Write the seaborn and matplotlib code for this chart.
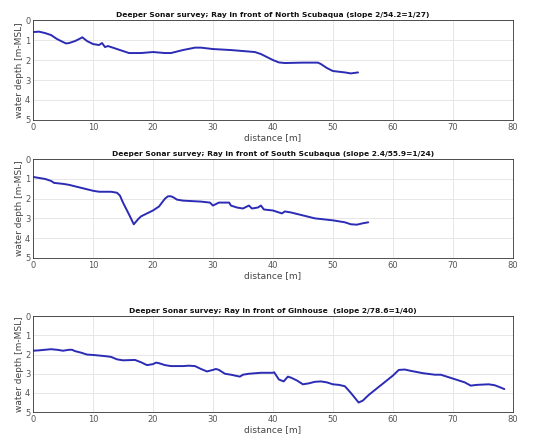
import matplotlib
matplotlib.use("Agg")
import matplotlib.pyplot as plt
import seaborn as sns
import pandas as pd

# Sonar profiles: distance along ray [m] and water depth [m-MSL]
north_dist = [0, 1, 2, 3, 4, 5, 5.5, 6, 7, 8, 8.2, 9, 10, 11, 11.5, 12, 12.5, 13, 14, 15,
              16, 18, 20, 22, 23, 25, 27, 28, 30, 33, 35, 37, 38, 40, 41, 42, 45, 47.5,
              48, 49, 50, 52, 53, 54.2]
north_depth = [0.6, 0.58, 0.65, 0.75, 0.95, 1.1, 1.17, 1.15, 1.05, 0.9, 0.86, 1.05, 1.2, 1.25,
               1.15, 1.35, 1.3, 1.35, 1.45, 1.55, 1.65, 1.65, 1.6, 1.65, 1.65, 1.5, 1.38,
               1.38, 1.45, 1.5, 1.55, 1.6, 1.7, 2.0, 2.12, 2.15, 2.13, 2.13, 2.2, 2.4,
               2.55, 2.62, 2.67, 2.62]

south_dist = [0, 1, 2, 3, 3.5, 5, 6, 8, 10, 11, 13, 14, 14.5, 15, 16, 16.8, 17.5, 18, 19,
              20, 21, 22, 22.5, 23, 23.5, 24, 25, 28, 29.5, 30, 31, 32, 32.7, 33, 34, 35,
              36, 36.5, 37.5, 38, 38.5, 40, 41, 41.5, 42, 43, 45, 47, 50, 52, 53, 54,
              55, 55.9]
south_depth = [0.9, 0.95, 1.0, 1.1, 1.2, 1.25, 1.3, 1.45, 1.6, 1.65, 1.65, 1.7, 1.85, 2.2,
               2.8, 3.3, 3.05, 2.9, 2.75, 2.6, 2.4, 2.0, 1.88, 1.88, 1.95, 2.05, 2.1, 2.15,
               2.2, 2.35, 2.2, 2.2, 2.2, 2.35, 2.45, 2.5, 2.35, 2.5, 2.45, 2.35, 2.55, 2.6,
               2.7, 2.75, 2.65, 2.7, 2.85, 3.0, 3.1, 3.2, 3.3, 3.32, 3.25, 3.2]

gin_dist = [0, 1, 2, 3, 4, 5, 6, 6.5, 7, 8, 9, 10, 12, 13, 14, 15, 17, 18, 19, 20, 20.5,
            21, 22, 23, 25, 26, 27, 28, 29, 30, 30.5, 31, 32, 33, 34.5, 35, 36, 38, 40,
            40.2, 41, 41.8, 42.5, 43, 44, 45, 46, 47, 48, 49, 50, 51, 52, 53, 54.3, 55,
            56, 58, 60, 61, 62, 63, 65, 67, 68, 70, 72, 73, 74, 76, 77, 78, 78.6]
gin_depth = [1.8, 1.78, 1.75, 1.72, 1.75, 1.8, 1.75, 1.75, 1.82, 1.9, 2.0, 2.02, 2.08,
             2.12, 2.25, 2.3, 2.28, 2.4, 2.55, 2.5, 2.42, 2.45, 2.55, 2.6, 2.6, 2.58,
             2.6, 2.75, 2.88, 2.8, 2.75, 2.8, 3.0, 3.05, 3.15, 3.05, 3.0, 2.95, 2.95,
             2.92, 3.3, 3.4, 3.15, 3.2, 3.35, 3.55, 3.5, 3.42, 3.4, 3.45, 3.55, 3.58,
             3.65, 4.0, 4.5, 4.4, 4.1, 3.6, 3.1, 2.8, 2.78, 2.85, 2.97, 3.05, 3.05,
             3.25, 3.45, 3.62, 3.58, 3.55, 3.6, 3.72, 3.8]

titles = [
    "Deeper Sonar survey; Ray in front of North Scubaqua (slope 2/54.2=1/27)",
    "Deeper Sonar survey; Ray in front of South Scubaqua (slope 2.4/55.9=1/24)",
    "Deeper Sonar survey; Ray in front of Ginhouse  (slope 2/78.6=1/40)",
]
x_ticks = [0, 10, 20, 30, 40, 50, 60, 70, 80]
y_ticks = [0, 1, 2, 3, 4, 5]

sns.set_theme(style="whitegrid")
plt.rcParams["font.family"] = ["DejaVu Sans"]

fig = plt.figure(figsize=(5.42, 4.46), dpi=100)
boxes = [
    (0.061, 0.731, 0.885, 0.224),
    (0.061, 0.422, 0.885, 0.221),
    (0.061, 0.076, 0.885, 0.215),
]
profiles = [(north_dist, north_depth), (south_dist, south_depth), (gin_dist, gin_depth)]

for box, (d, z), title in zip(boxes, profiles, titles):
    ax = fig.add_axes(box)
    df = pd.DataFrame({"distance": d, "depth": z})
    sns.lineplot(data=df, x="distance", y="depth", ax=ax, color="#2b2bb5",
                 linewidth=1.4, estimator=None, sort=False)
    ax.set_xlim(0, 80)
    ax.set_ylim(5, 0)
    ax.set_xticks(x_ticks)
    ax.set_yticks(y_ticks)
    ax.tick_params(axis="both", labelsize=6, colors="#555555", length=2,
                   direction="in", pad=2)
    ax.grid(True, color="#e3e3e3", linewidth=0.6)
    for sp in ax.spines.values():
        sp.set_color("#333333")
        sp.set_linewidth(0.6)
    ax.set_xlabel("distance [m]", fontsize=6.5, color="#444444", labelpad=1)
    ax.set_ylabel("water depth [m-MSL]", fontsize=6.5, color="#444444", labelpad=1)
    ax.set_title(title, fontsize=5.4, fontweight="bold", color="#111111", pad=2)

fig.savefig("out.png", dpi=100)
